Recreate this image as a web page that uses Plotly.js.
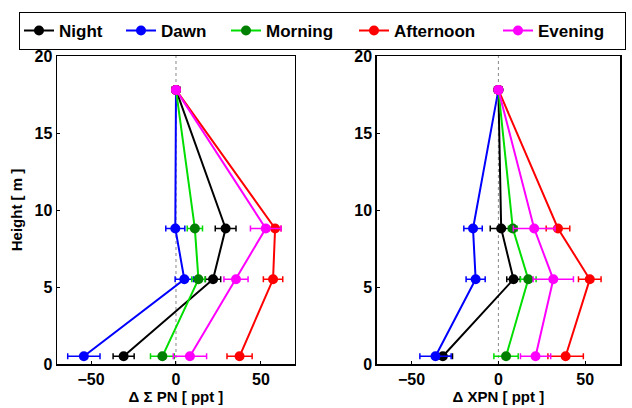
<!DOCTYPE html>
<html>
<head>
<meta charset="utf-8">
<script src="https://cdn.plot.ly/plotly-3.0.1.min.js"></script>
<style>html,body{margin:0;padding:0;background:#fff;}#chart{width:632px;height:408px;}</style>
</head>
<body>
<div id="chart"></div>
<script>
// Heights [m]
const heights = [0.5, 5.5, 8.8, 17.8];
const seriesNames = ["Night", "Dawn", "Morning", "Afternoon", "Evening"];
const seriesColors = ["#000000", "#0000ff", "#00dd00", "#ff0000", "#ff00ff"];
const markerColors = ["#000000", "#0000ff", "#008000", "#ff0000", "#ff00ff"];
const legendWidths = [57, 60, 83, 99, 82];

// Left panel: Δ Σ PN [ppt]
const sumPN_Night = [-30.8, 21.8, 29.2, 0];
const sumPN_Dawn = [-54.2, 4.9, -0.4, 0];
const sumPN_Morning = [-8.0, 13.2, 11.1, 0];
const sumPN_Afternoon = [37.4, 57.1, 58.3, 0];
const sumPN_Evening = [8.2, 35.3, 52.8, 0];
const sumPN_err_Night = [6.2, 4.5, 6.1, 0];
const sumPN_err_Dawn = [9.5, 5.4, 5.6, 0];
const sumPN_err_Morning = [7.0, 3.9, 4.5, 0];
const sumPN_err_Afternoon = [7.4, 5.7, 3.5, 0];
const sumPN_err_Evening = [9.8, 7.1, 9.0, 0];

// Right panel: Δ XPN [ppt]
const xPN_Night = [-32.0, 8.7, 1.6, 0];
const xPN_Dawn = [-36.2, -13.1, -14.6, 0];
const xPN_Morning = [4.4, 17.2, 8.3, 0];
const xPN_Afternoon = [38.7, 52.6, 34.3, 0];
const xPN_Evening = [21.4, 31.6, 20.6, 0];
const xPN_err_Night = [5.6, 3.9, 6.3, 0];
const xPN_err_Dawn = [9.0, 5.5, 5.3, 0];
const xPN_err_Morning = [7.0, 4.5, 2.5, 0];
const xPN_err_Afternoon = [10.2, 6.5, 6.8, 0];
const xPN_err_Evening = [8.7, 11.6, 12.0, 0];

const xTickVals = [-50, 0, 50];
const yTickVals = [0, 5, 10, 15, 20];

const leftVals = [sumPN_Night, sumPN_Dawn, sumPN_Morning, sumPN_Afternoon, sumPN_Evening];
const leftErrs = [sumPN_err_Night, sumPN_err_Dawn, sumPN_err_Morning, sumPN_err_Afternoon, sumPN_err_Evening];
const rightVals = [xPN_Night, xPN_Dawn, xPN_Morning, xPN_Afternoon, xPN_Evening];
const rightErrs = [xPN_err_Night, xPN_err_Dawn, xPN_err_Morning, xPN_err_Afternoon, xPN_err_Evening];

const FONT = "Liberation Sans, Arial, sans-serif";
const traces = [];
function addPanel(vals, errs, xa, ya, showLegend) {
  for (let i = 0; i < seriesNames.length; i++) {
    traces.push({
      type: "scatter", mode: "lines+markers",
      name: seriesNames[i], legendgroup: seriesNames[i], showlegend: showLegend,
      legendwidth: legendWidths[i],
      x: vals[i], y: heights, xaxis: xa, yaxis: ya,
      line: {color: seriesColors[i], width: 2},
      marker: {color: markerColors[i], size: 10, symbol: "circle"},
      error_x: {type: "data", array: errs[i], visible: true, color: seriesColors[i], thickness: 1.5, width: 3}
    });
  }
}
addPanel(leftVals, leftErrs, "x", "y", true);
addPanel(rightVals, rightErrs, "x2", "y2", false);

const axisCommon = {
  showline: true, mirror: true, linecolor: "#000", linewidth: 1.5,
  showgrid: false, zeroline: false,
  ticks: "inside", ticklen: 3, tickcolor: "#000",
  tickfont: {family: FONT, size: 16, color: "#000", weight: "bold"}
};

const layout = {
  width: 632, height: 408,
  margin: {l: 57, r: 12, t: 56, b: 44, autoexpand: false},
  paper_bgcolor: "#fff", plot_bgcolor: "#fff",
  font: {family: FONT, color: "#000"},
  xaxis: Object.assign({}, axisCommon, {domain: [0, 0.4227], range: [-70, 70], tickvals: xTickVals, anchor: "y",
    title: {text: "Δ Σ PN [ ppt ]", font: {family: FONT, size: 15, weight: "bold"}, standoff: 2}}),
  yaxis: Object.assign({}, axisCommon, {range: [0, 20], tickvals: yTickVals, anchor: "x",
    title: {text: "Height [ m ]", font: {family: FONT, size: 15, weight: "bold"}, standoff: 8}}),
  xaxis2: Object.assign({}, axisCommon, {domain: [0.568, 1], range: [-70, 70], tickvals: xTickVals, anchor: "y2",
    title: {text: "Δ XPN [ ppt ]", font: {family: FONT, size: 15, weight: "bold"}, standoff: 2}}),
  yaxis2: Object.assign({}, axisCommon, {range: [0, 20], tickvals: yTickVals, anchor: "x2"}),
  shapes: [
    {type: "line", xref: "x", yref: "y domain", x0: 0, x1: 0, y0: 0, y1: 1, line: {color: "#888", width: 1, dash: "dot"}, layer: "below"},
    {type: "line", xref: "x2", yref: "y2 domain", x0: 0, x1: 0, y0: 0, y1: 1, line: {color: "#888", width: 1, dash: "dot"}, layer: "below"}
  ],
  legend: {
    orientation: "h", x: -0.0675, xanchor: "left", xref: "paper",
    y: 1.143, yanchor: "top", yref: "paper",
    bordercolor: "#000", borderwidth: 1, bgcolor: "#fff",
    font: {family: FONT, size: 17, color: "#000", weight: "bold"},
    itemwidth: 30, tracegroupgap: 0, entrywidthmode: "pixels"
  }
};

Plotly.newPlot("chart", traces, layout, {displayModeBar: false, staticPlot: true});
</script>
</body>
</html>
